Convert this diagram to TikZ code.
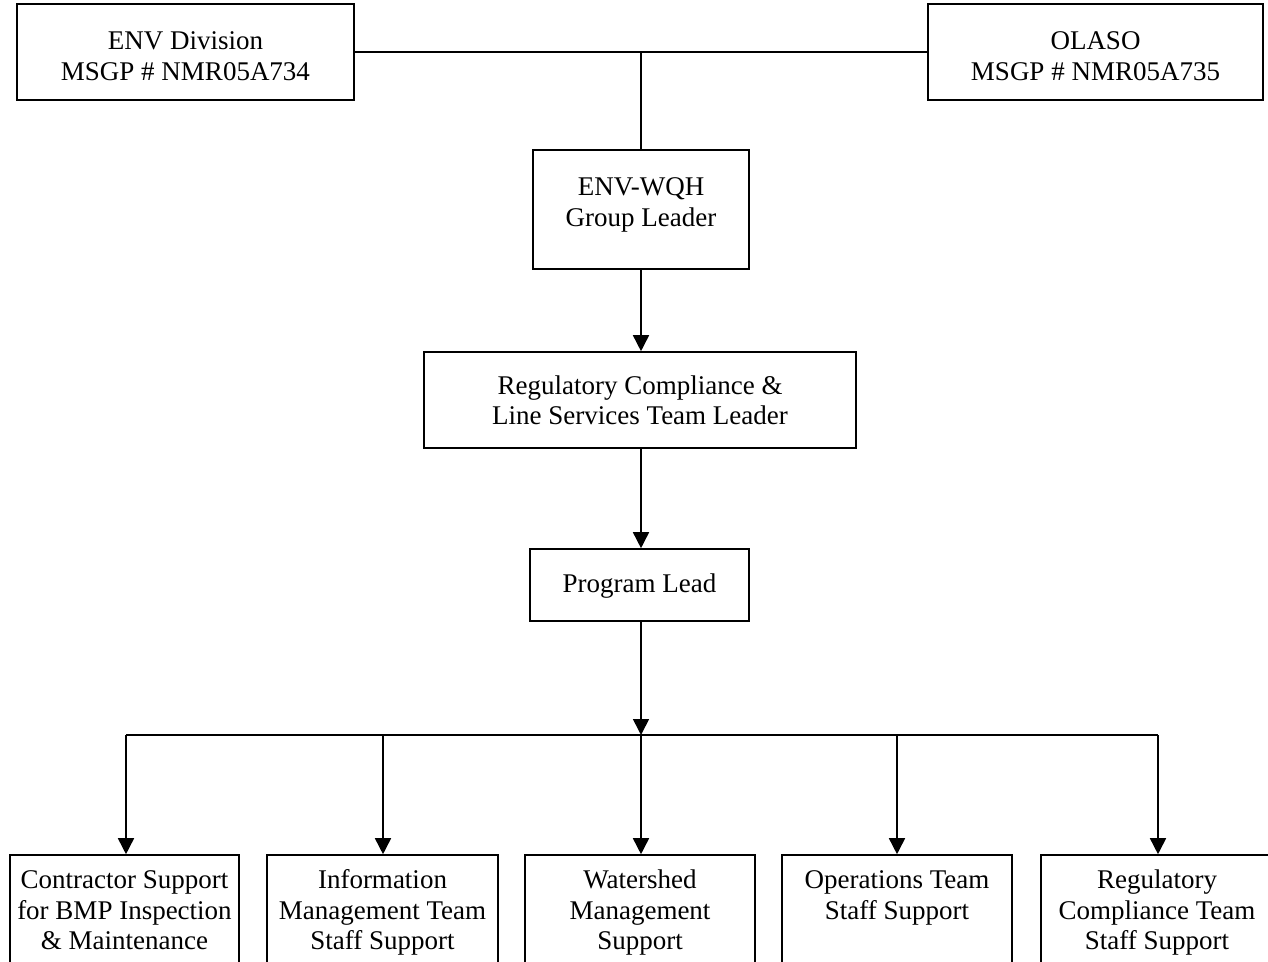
\documentclass[tikz,border=0pt]{standalone}
\usepackage{fontspec}
\setmainfont{Liberation Serif}
\usetikzlibrary{arrows.meta}
\begin{document}
\begin{tikzpicture}[x=1pt,y=-1pt,
  box/.style={draw,line width=1.6pt,inner sep=0pt},
  txt/.style={inner sep=0pt,align=center,anchor=north,
    font=\fontsize{27}{30.5}\selectfont},
  conn/.style={line width=1.6pt},
  arr/.style={line width=1.6pt,-{Triangle[width=16pt,length=16pt]}}]
\useasboundingbox (0,0) rectangle (1268,961);
% boxes
\node[box,minimum width=337pt,minimum height=96pt] (env) at (185.5,52) {};
\node[box,minimum width=335pt,minimum height=96pt] (olaso) at (1095.5,52) {};
\node[box,minimum width=216pt,minimum height=119pt] (wqh) at (641,209.5) {};
\node[box,minimum width=432pt,minimum height=96pt] (reg) at (640,400) {};
\node[box,minimum width=219pt,minimum height=72pt] (pl) at (639.5,585) {};
\node[box,minimum width=229pt,minimum height=110pt] (c1) at (124.5,910) {};
\node[box,minimum width=231pt,minimum height=110pt] (c2) at (382.5,910) {};
\node[box,minimum width=230pt,minimum height=110pt] (c3) at (640,910) {};
\node[box,minimum width=230pt,minimum height=110pt] (c4) at (897,910) {};
\node[box,minimum width=232pt,minimum height=110pt] (c5) at (1157,910) {};
% texts (north = first baseline - 0.7 baselineskip)
\node[txt] (envt) at (185.5,28) {\strut ENV Division\\\strut MSGP \# NMR05A734};
\node[txt] (olasot) at (1095.5,28) {\strut OLASO\\\strut MSGP \# NMR05A735};
\node[txt] (wqht) at (641,174) {\strut ENV-WQH\\\strut Group Leader};
\node[txt] (regt) at (640,372.5) {\strut Regulatory Compliance \&\\\strut Line Services Team Leader};
\node[txt] (plt) at (639.5,570.5) {\strut Program Lead};
\node[txt] (c1t) at (124.5,867) {\strut Contractor Support\\\strut for BMP Inspection\\\strut \& Maintenance};
\node[txt] (c2t) at (382.5,867) {\strut Information\\\strut Management Team\\\strut Staff Support};
\node[txt] (c3t) at (640,867) {\strut Watershed\\\strut Management\\\strut Support};
\node[txt] (c4t) at (897,867) {\strut Operations Team\\\strut Staff Support};
\node[txt] (c5t) at (1157,867) {\strut Regulatory\\\strut Compliance Team\\\strut Staff Support};
% connectors
\coordinate (j) at (641,52);
\coordinate (b1) at (126,735);
\coordinate (b2) at (383,735);
\coordinate (b3) at (641,735);
\coordinate (b4) at (897,735);
\coordinate (b5) at (1158,735);
\draw[conn] (env.east) -- (olaso.west);
\draw[conn] (j) -- (j |- wqh.north);
\draw[arr] (j |- wqh.south) -- (j |- reg.north);
\draw[arr] (j |- reg.south) -- (j |- pl.north);
\draw[arr] (j |- pl.south) -- (b3);
\draw[conn] (b1) -- (b5);
\foreach \i in {1,...,5} \draw[arr] (b\i) -- (b\i |- c\i.north);
\end{tikzpicture}
\end{document}
